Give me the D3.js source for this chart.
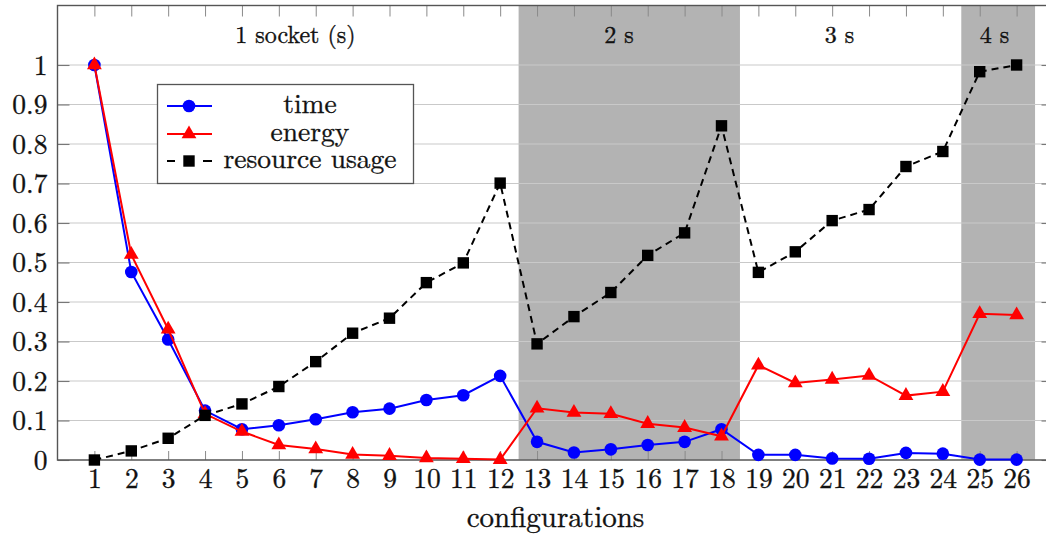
<!DOCTYPE html>
<html>
<head>
<meta charset="utf-8">
<script src="https://cdn.jsdelivr.net/npm/d3@7"></script>
<style>
  html, body { margin: 0; padding: 0; background: #fff; }
  svg { display: block; }
</style>
</head>
<body>
<svg id="chart" width="1046" height="538"></svg>
<script>
// Configurations 1..26
const configs = d3.range(1, 27);

// Normalised metrics per configuration
const timeValues = [1.0, 0.476, 0.305, 0.125, 0.078, 0.088, 0.103, 0.121, 0.130, 0.152, 0.164, 0.213,
  0.046, 0.019, 0.027, 0.038, 0.046, 0.078, 0.013, 0.013, 0.004, 0.003, 0.018, 0.016, 0.001, 0.001];
const energyValues = [1.0, 0.52, 0.331, 0.117, 0.072, 0.038, 0.028, 0.014, 0.011, 0.005, 0.003, 0.001,
  0.131, 0.120, 0.117, 0.092, 0.082, 0.060, 0.240, 0.195, 0.204, 0.214, 0.163, 0.173, 0.370, 0.367];
const resourceValues = [0.0, 0.023, 0.055, 0.113, 0.142, 0.186, 0.249, 0.321, 0.359, 0.449, 0.499, 0.701,
  0.294, 0.363, 0.424, 0.518, 0.575, 0.846, 0.475, 0.527, 0.606, 0.634, 0.743, 0.781, 0.983, 1.0];

// Socket groups: label, label position, shaded span (or null)
const groupLabels = ["1 socket (s)", "2 s", "3 s", "4 s"];
const groupLabelX = [6.45, 15.22, 21.2, 25.4];
const groupSpans = [null, [12.5, 18.5], null, [24.5, 26.5]];

const yTicks = d3.range(0, 11).map(i => i / 10);
const yTickLabels = ["0", "0.1", "0.2", "0.3", "0.4", "0.5", "0.6", "0.7", "0.8", "0.9", "1"];

const seriesNames = ["time", "energy", "resource usage"];

const FONT = "'Latin Modern Roman', 'Liberation Serif', serif";

// Latin Modern is thin on screen; a hairline stroke gives it some body
function textStyle(sel, size) {
  sel.attr("fill", "#111")
    .attr("stroke", "#111")
    .attr("stroke-width", 0.35)
    .style("font-family", FONT)
    .style("font-size", size);
}

const svg = d3.select("#chart");
const plot = { left: 57.5, right: 1053.5, top: 5.5, bottom: 460 };

const x = d3.scaleLinear().domain([0, 27]).range([plot.left, plot.right]);
const y = d3.scaleLinear().domain([0, 1.1506]).range([plot.bottom, plot.top]);

// Shaded socket groups
svg.append("g").selectAll("rect")
  .data(groupSpans.filter(d => d))
  .join("rect")
  .attr("x", d => x(d[0]))
  .attr("y", plot.top)
  .attr("width", d => x(d[1]) - x(d[0]))
  .attr("height", plot.bottom - plot.top)
  .attr("fill", "#b3b3b3");

// Horizontal grid
svg.append("g").selectAll("line")
  .data(yTicks)
  .join("line")
  .attr("x1", plot.left).attr("x2", plot.right)
  .attr("y1", d => y(d)).attr("y2", d => y(d))
  .attr("stroke", "#c9c9c9")
  .attr("stroke-width", 1.1);

// Bottom axis (ticks point inward)
const xAxisB = svg.append("g")
  .attr("transform", `translate(0,${plot.bottom})`)
  .call(d3.axisBottom(x).tickValues(configs).tickFormat(d3.format("d")).tickSizeInner(-9).tickSizeOuter(0));
xAxisB.select(".domain").remove();
xAxisB.selectAll(".tick line").attr("stroke", "#8a8a8a").attr("stroke-width", 1);
xAxisB.selectAll(".tick text")
  .attr("y", 28)
  .attr("dy", 0)
  .call(textStyle, "27.5px");

// Top mirror ticks
const xAxisT = svg.append("g")
  .attr("transform", `translate(0,${plot.top})`)
  .call(d3.axisTop(x).tickValues(configs).tickFormat("").tickSizeInner(-11).tickSizeOuter(0));
xAxisT.select(".domain").remove();
xAxisT.selectAll(".tick line").attr("stroke", "#8a8a8a").attr("stroke-width", 1);

// Left axis
const yAxisL = svg.append("g")
  .attr("transform", `translate(${plot.left},0)`)
  .call(d3.axisLeft(y).tickValues(yTicks).tickFormat((d, i) => yTickLabels[i]).tickSizeInner(-12).tickSizeOuter(0));
yAxisL.select(".domain").remove();
yAxisL.selectAll(".tick line").attr("stroke", "#777").attr("stroke-width", 1.1);
yAxisL.selectAll(".tick text")
  .attr("x", -10)
  .attr("dy", "0.34em")
  .call(textStyle, "27.5px");

// Right mirror ticks
const yAxisR = svg.append("g")
  .attr("transform", `translate(${plot.right},0)`)
  .call(d3.axisRight(y).tickValues(yTicks).tickFormat("").tickSizeInner(-12).tickSizeOuter(0));
yAxisR.select(".domain").remove();
yAxisR.selectAll(".tick line").attr("stroke", "#777").attr("stroke-width", 1.1);

// Frame
svg.append("rect")
  .attr("x", plot.left).attr("y", plot.top)
  .attr("width", plot.right - plot.left).attr("height", plot.bottom - plot.top)
  .attr("fill", "none")
  .attr("stroke", "#555")
  .attr("stroke-width", 1.4);

// Group labels
svg.append("g").selectAll("text")
  .data(groupLabels)
  .join("text")
  .attr("x", (d, i) => x(groupLabelX[i]))
  .attr("y", 43)
  .attr("text-anchor", "middle")
  .call(textStyle, "24px")
  .text(d => d);

// Axis title
svg.append("text")
  .attr("x", (plot.left + plot.right) / 2)
  .attr("y", 527)
  .attr("text-anchor", "middle")
  .call(textStyle, "29px")
  .text("configurations");

// Series
const series = [
  { name: seriesNames[0], values: timeValues, color: "#0000ff", dash: null, symbol: d3.symbolCircle, size: 125 },
  { name: seriesNames[1], values: energyValues, color: "#ff0000", dash: null, symbol: d3.symbolTriangle, size: 95 },
  { name: seriesNames[2], values: resourceValues, color: "#000000", dash: "7,5", symbol: d3.symbolSquare, size: 130 }
];

const line = d3.line()
  .x((d, i) => x(configs[i]))
  .y(d => y(d));

series.forEach(s => {
  const g = svg.append("g");
  g.append("path")
    .datum(s.values)
    .attr("d", line)
    .attr("fill", "none")
    .attr("stroke", s.color)
    .attr("stroke-width", 2)
    .attr("stroke-dasharray", s.dash);
  g.selectAll("path.mark")
    .data(s.values)
    .join("path")
    .attr("class", "mark")
    .attr("d", d3.symbol().type(s.symbol).size(s.size))
    .attr("transform", (d, i) => `translate(${x(configs[i])},${y(d)})`)
    .attr("fill", s.color);
});

// Legend
const legend = svg.append("g");
legend.append("rect")
  .attr("x", 157.5).attr("y", 84.5)
  .attr("width", 256).attr("height", 99)
  .attr("fill", "#fff")
  .attr("stroke", "#555")
  .attr("stroke-width", 1.3);

const rowY = [106, 134, 161];
series.forEach((s, i) => {
  const ry = rowY[i];
  if (s.dash) {
    legend.append("line").attr("x1", 167).attr("x2", 175).attr("y1", ry).attr("y2", ry)
      .attr("stroke", s.color).attr("stroke-width", 2);
    legend.append("line").attr("x1", 203).attr("x2", 212).attr("y1", ry).attr("y2", ry)
      .attr("stroke", s.color).attr("stroke-width", 2);
  } else {
    legend.append("line").attr("x1", 167).attr("x2", 212).attr("y1", ry).attr("y2", ry)
      .attr("stroke", s.color).attr("stroke-width", 2);
  }
  legend.append("path")
    .attr("d", d3.symbol().type(s.symbol).size(s.size))
    .attr("transform", `translate(189,${ry})`)
    .attr("fill", s.color);
  legend.append("text")
    .attr("x", 310)
    .attr("y", ry + 7)
    .attr("text-anchor", "middle")
    .call(textStyle, "27.5px")
    .text(s.name);
});
</script>
</body>
</html>
